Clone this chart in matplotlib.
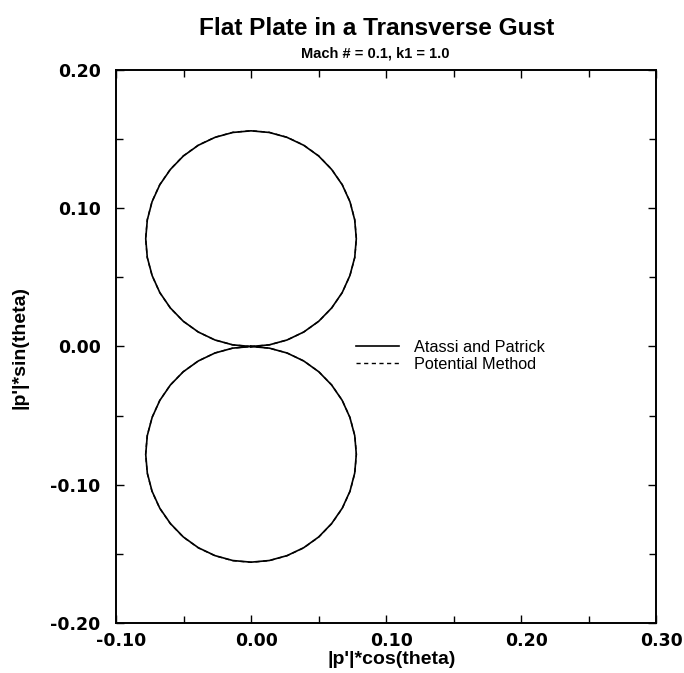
import numpy as np
import matplotlib.pyplot as plt
from matplotlib.ticker import MultipleLocator
from matplotlib.transforms import ScaledTranslation

# directivity: observer angle (deg) and pressure magnitude |p'|
theta_deg = list(range(0, 365, 5))
p_atassi = [0.0000, 0.0136, 0.0271, 0.0404, 0.0534, 0.0659, 0.0780, 0.0894, 0.1003,
            0.1103, 0.1195, 0.1278, 0.1351, 0.1413, 0.1466, 0.1507, 0.1536, 0.1554,
            0.1560, 0.1554, 0.1536, 0.1507, 0.1466, 0.1413, 0.1351, 0.1278, 0.1195,
            0.1103, 0.1003, 0.0894, 0.0780, 0.0659, 0.0534, 0.0404, 0.0271, 0.0136,
            0.0000, 0.0136, 0.0271, 0.0404, 0.0534, 0.0659, 0.0780, 0.0894, 0.1003,
            0.1103, 0.1195, 0.1278, 0.1351, 0.1413, 0.1466, 0.1507, 0.1536, 0.1554,
            0.1560, 0.1554, 0.1536, 0.1507, 0.1466, 0.1413, 0.1351, 0.1278, 0.1195,
            0.1103, 0.1003, 0.0894, 0.0780, 0.0659, 0.0534, 0.0404, 0.0271, 0.0136,
            0.0000]
p_potential = [0.0000, 0.0137, 0.0272, 0.0405, 0.0535, 0.0660, 0.0781, 0.0895, 0.1004,
               0.1104, 0.1196, 0.1279, 0.1352, 0.1414, 0.1467, 0.1508, 0.1537, 0.1555,
               0.1561, 0.1555, 0.1537, 0.1508, 0.1467, 0.1414, 0.1352, 0.1279, 0.1196,
               0.1104, 0.1004, 0.0895, 0.0781, 0.0660, 0.0535, 0.0405, 0.0272, 0.0137,
               0.0000, 0.0137, 0.0272, 0.0405, 0.0535, 0.0660, 0.0781, 0.0895, 0.1004,
               0.1104, 0.1196, 0.1279, 0.1352, 0.1414, 0.1467, 0.1508, 0.1537, 0.1555,
               0.1561, 0.1555, 0.1537, 0.1508, 0.1467, 0.1414, 0.1352, 0.1279, 0.1196,
               0.1104, 0.1004, 0.0895, 0.0781, 0.0660, 0.0535, 0.0405, 0.0272, 0.0137,
               0.0000]

th = np.radians(theta_deg)
pa = np.array(p_atassi)
pp = np.array(p_potential)

plt.rcParams['font.family'] = ['Liberation Sans', 'DejaVu Sans']

fig = plt.figure(figsize=(6.84, 6.73), dpi=100)
ax = fig.add_axes([0.1696, 0.0743, 0.7895, 0.8217])

ax.plot(pa * np.cos(th), pa * np.sin(th), color='black', lw=1.2, label='Atassi and Patrick')
ax.plot(pp * np.cos(th), pp * np.sin(th), color='black', lw=1.0, ls=(0, (3, 2.5)),
        label='Potential Method')

ax.set_xlim(-0.10, 0.30)
ax.set_ylim(-0.20, 0.20)
ax.xaxis.set_major_locator(MultipleLocator(0.1))
ax.yaxis.set_major_locator(MultipleLocator(0.1))
ax.xaxis.set_minor_locator(MultipleLocator(0.05))
ax.yaxis.set_minor_locator(MultipleLocator(0.05))
ax.xaxis.set_major_formatter(plt.FormatStrFormatter('%.2f'))
ax.yaxis.set_major_formatter(plt.FormatStrFormatter('%.2f'))
ax.tick_params(which='both', direction='in', top=True, right=True, width=1.0)
ax.tick_params(which='major', length=6, labelsize=12.5)
ax.tick_params(which='minor', length=5)
ax.tick_params(axis='x', pad=6.5)
ax.tick_params(axis='y', pad=11)
# x tick labels sit a few pixels right of their ticks
shift = ScaledTranslation(4 / 72, 0, fig.dpi_scale_trans)
for lab in ax.get_xticklabels():
    lab.set_fontweight('bold')
    lab.set_family('DejaVu Sans')
    lab.set_transform(lab.get_transform() + shift)
for lab in ax.get_yticklabels():
    lab.set_fontweight('bold')
    lab.set_family('DejaVu Sans')
for s in ax.spines.values():
    s.set_linewidth(1.4)

fig.text(0.572, 0.020, "|p'|*cos(theta)", ha='center', va='center',
         fontsize=14, fontweight='bold')
fig.text(0.029, 0.483, "|p'|*sin(theta)", ha='center', va='center', rotation=90,
         fontsize=14, fontweight='bold')

fig.text(0.550, 0.958, 'Flat Plate in a Transverse Gust', ha='center', va='center',
         fontsize=17.6, fontweight='bold')
fig.text(0.548, 0.921, 'Mach # = 0.1, k1 = 1.0', ha='center', va='center',
         fontsize=10.5, fontweight='bold')

ax.legend(loc='center left', bbox_to_anchor=(0.418, 0.483), frameon=False,
          fontsize=11.7, handlelength=2.65, handletextpad=0.92, labelspacing=0.15)

fig.savefig('out.png', dpi=100)
